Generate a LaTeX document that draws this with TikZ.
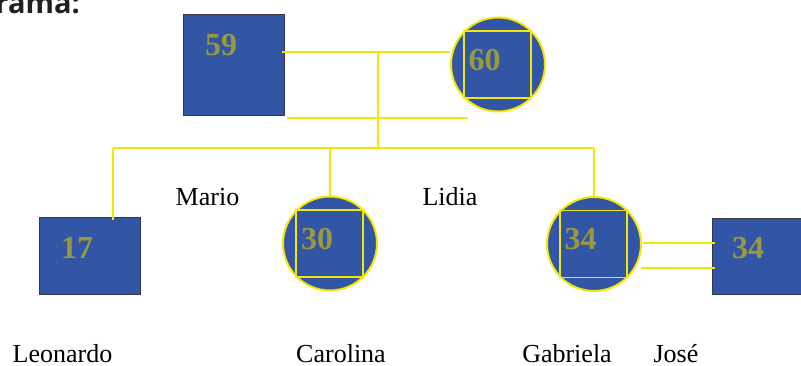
\documentclass[tikz,border=0pt]{standalone}
\usepackage{fontspec}
\setmainfont{Liberation Serif}
\newfontfamily\headfont{Open Sans}
\definecolor{famblue}{RGB}{51,85,165}
\definecolor{famline}{RGB}{245,232,0}
\definecolor{famnum}{RGB}{153,153,61}
\definecolor{famedge}{RGB}{55,55,75}
\definecolor{famhead}{RGB}{35,31,32}
\begin{document}
\begin{tikzpicture}[x=1pt,y=-1pt,
    male/.style ={rectangle, draw=famedge, fill=famblue, line width=1pt, inner sep=0pt},
    female/.style ={circle, draw=famline, fill=famblue, line width=2pt, minimum size=94pt, inner sep=0pt},
    femsquare/.style ={rectangle, draw=famline, line width=1.5pt, minimum size=67pt, inner sep=0pt},
    agetext/.style ={text=famnum, inner sep=0pt, font=\fontsize{32}{32}\selectfont\bfseries},
    persontext/.style ={inner sep=0pt, anchor=base, font=\fontsize{26}{26}\selectfont},
    link/.style ={draw=famline, line width=2pt}]
   \useasboundingbox (0,0) rectangle (801,365);
   \node[anchor=base east, inner sep=0pt, text=famhead, font=\headfont\fontsize{29}{29}\selectfont\bfseries] (head) at (80,13) {rama:};

   % people
   \node[male, minimum width=101pt, minimum height=101pt] (P59) at (233.5,64.5) {};
   \node[female] (P60) at (498,64.5) {};
   \node[femsquare] (P60sq) at (497.5,64.5) {};
   \node[male, minimum width=101pt, minimum height=77pt] (P17) at (89.5,255.5) {};
   \node[female] (P30) at (330,243.5) {};
   \node[femsquare] (P30sq) at (329.5,243.5) {};
   \node[female] (P34) at (594,244) {};
   \node[femsquare] (P34sq) at (593.5,244) {};
   \node[male, minimum width=101pt, minimum height=76pt] (PJose) at (762.5,256) {};

   % ages
   \node[agetext] (A59) at (221,45) {59};
   \node[agetext] (A60) at (484.5,60) {60};
   \node[agetext] (A17) at (77,248) {17};
   \node[agetext] (A30) at (317,239) {30};
   \node[agetext] (A34) at (580.5,239.5) {34};
   \node[agetext] (AJose) at (748,248) {34};

   % names
   \node[persontext] (Mario) at (207.5,205) {Mario};
   \node[persontext] (Lidia) at (450,205) {Lidia};
   \node[persontext] (Leonardo) at (62.5,362) {Leonardo};
   \node[persontext] (Carolina) at (341,362) {Carolina};
   \node[persontext] (Gabriela) at (567,362) {Gabriela};
   \node[persontext] (Jose) at (676,362) {José};

   % family lines
   \coordinate (M1) at (282,52);
   \coordinate (M2) at (287,118);
   \coordinate (M3) at (468,118);
   \coordinate (Mid) at (378,52);
   \coordinate (S1) at (113,148);
   \coordinate (S2) at (594,148);
   \coordinate (K1) at (113,220);
   \coordinate (J1) at (643,243);
   \coordinate (J2) at (715,243);
   \coordinate (J3) at (641,268);
   \coordinate (J4) at (715,268);

   \draw[link] (M1) to (M1 -| P60.west);
   \draw[link] (M2) to (M3);
   \draw[link] (Mid) to (Mid |- S1);
   \draw[link] (S1) to (S2);
   \draw[link] (S1) to (K1);
   \draw[link] (S1 -| P30) to (P30.north);
   \draw[link] (S2) to (P34.north);
   \draw[link] (J1) to (J2);
   \draw[link] (J3) to (J4);
 \end{tikzpicture}
\end{document}
